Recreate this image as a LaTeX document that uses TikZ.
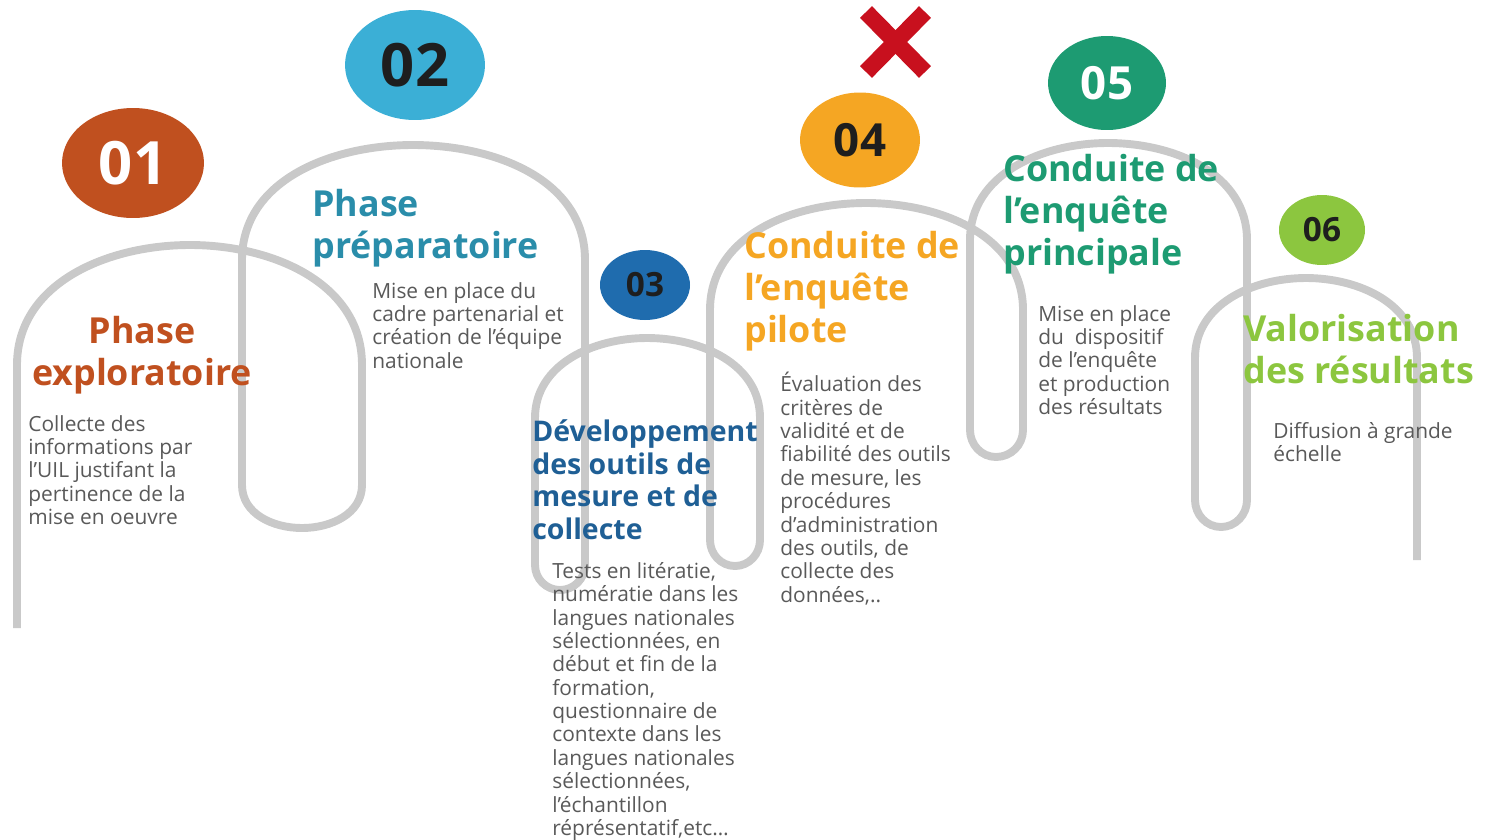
\documentclass[tikz,border=0pt]{standalone}
\usepackage{fontspec}
\setmainfont{Open Sans}
\usepackage{tikz}
\usetikzlibrary{shapes.geometric}
\definecolor{rouille}{HTML}{C0501F}
\definecolor{ciel}{HTML}{3BAFD6}
\definecolor{sarcelle}{HTML}{2A8DAA}
\definecolor{marine}{HTML}{1F6CAE}
\definecolor{marinefonce}{HTML}{1F5F95}
\definecolor{ambre}{HTML}{F5A623}
\definecolor{emeraude}{HTML}{1D9B72}
\definecolor{pomme}{HTML}{8CC63F}
\definecolor{grisfil}{HTML}{C9C9C9}
\definecolor{gristexte}{HTML}{595959}
\definecolor{encre}{HTML}{1E1E1E}
\definecolor{rougex}{HTML}{C8101E}
\tikzstyle{every node}=[inner sep=0pt]
\tikzset{
  fil/.style={line width=4.5pt,color=grisfil},
  pastille/.style={ellipse,font=\fontsize{34}{34}\selectfont\bfseries},
  titre/.style={anchor=north west,align=left,font=\fontsize{20.4}{23.8}\selectfont\bfseries},
  corps/.style={anchor=north west,align=left,text=gristexte,font=\fontsize{11.9}{13.3}\selectfont}
}

\begin{document}
\begin{tikzpicture}[x=0.02cm,y=0.02cm]
                    \useasboundingbox (0,-839) rectangle (1487,0);

                    \draw [fil] (17,-628) -- (17,-365) to[out=90,in=180] (190,-245) to[out=0,in=90] (362,-365) -- (362,-485) to[out=-90,in=0] (302,-528) to[out=180,in=-90] (242,-485)
                      -- (242,-260) to[out=90,in=180] (413,-145) to[out=0,in=90] (585,-260) -- (585,-565) to[out=-90,in=0] (560,-590) to[out=180,in=-90] (535,-565)
                      -- (535,-418) to[out=90,in=180] (647,-338) to[out=0,in=90] (760,-418) -- (760,-540) to[out=-90,in=0] (735,-566) to[out=180,in=-90] (710,-540)
                      -- (710,-310) to[out=90,in=180] (866,-203) to[out=0,in=90] (1023,-310) -- (1023,-430) to[out=-90,in=0] (996,-457) to[out=180,in=-90] (970,-430)
                      -- (970,-240) to[out=90,in=180] (1108,-143) to[out=0,in=90] (1247,-240) -- (1247,-500) to[out=-90,in=0] (1221,-527) to[out=180,in=-90] (1195,-500)
                      -- (1195,-358) to[out=90,in=180] (1306,-278) to[out=0,in=90] (1417,-358) -- (1417,-560);

                    \node [pastille,fill=rouille,text=white,minimum width=2.84cm,minimum height=2.2cm] (p01) at (133,-163) {01};
                    \node [pastille,fill=ciel,text=encre,minimum width=2.8cm,minimum height=2.2cm] (p02) at (415,-65) {02};
                    \node [pastille,fill=marine,text=encre,minimum width=1.8cm,minimum height=1.4cm,font=\fontsize{19}{19}\selectfont\bfseries] (p03) at (645,-285) {03};
                    \node [pastille,fill=ambre,text=encre,minimum width=2.4cm,minimum height=1.9cm,font=\fontsize{26}{26}\selectfont\bfseries] (p04) at (860,-140) {04};
                    \node [pastille,fill=emeraude,text=white,minimum width=2.36cm,minimum height=1.88cm,font=\fontsize{26}{26}\selectfont\bfseries] (p05) at (1107,-83) {05};
                    \node [pastille,fill=pomme,text=encre,minimum width=1.72cm,minimum height=1.4cm,font=\fontsize{19}{19}\selectfont\bfseries] (p06) at (1322,-230) {06};

                    \draw [line width=9.5pt,color=rougex] (866,-12) -- (925,-72);
                    \draw [line width=9.5pt,color=rougex] (925,-12) -- (866,-72);

                    \node [titre,text=rouille,anchor=north,align=center] (t01) at (142,-316) {Phase\\exploratoire};
                    \node [titre,text=sarcelle] (t02) at (312,-189) {Phase\\préparatoire};
                    \node [titre,text=marinefonce,font=\fontsize{16.2}{18.7}\selectfont\bfseries] (t03) at (532,-419) {Développement\\des outils de\\mesure et de\\collecte};
                    \node [titre,text=ambre] (t04) at (744,-231) {Conduite de\\l’enquête\\pilote};
                    \node [titre,text=emeraude] (t05) at (1003,-154) {Conduite de\\l’enquête\\principale};
                    \node [titre,text=pomme] (t06) at (1243,-314) {Valorisation\\des résultats};

                    \node [corps] (d01) at (28,-415) {Collecte des\\informations par\\l’UIL justifant la\\pertinence de la\\mise en oeuvre};
                    \node [corps] (d02) at (372,-282) {Mise en place du\\cadre partenarial et\\création de l’équipe\\nationale};
                    \node [corps] (d03) at (552,-562) {Tests en litératie,\\numératie dans les\\langues nationales\\sélectionnées, en\\début et fin de la\\formation,\\questionnaire de\\contexte dans les\\langues nationales\\sélectionnées,\\l’échantillon\\réprésentatif,etc…};
                    \node [corps] (d04) at (780,-372) {Évaluation des\\critères de\\validité et de\\fiabilité des outils\\de mesure, les\\procédures\\d’administration\\des outils, de\\collecte des\\données,..};
                    \node [corps] (d05) at (1038,-305) {Mise en place\\du\ \ dispositif\\de l’enquête\\et production\\des résultats};
                    \node [corps] (d06) at (1273,-422) {Diffusion à grande\\échelle};
                    \end{tikzpicture}
\end{document}
